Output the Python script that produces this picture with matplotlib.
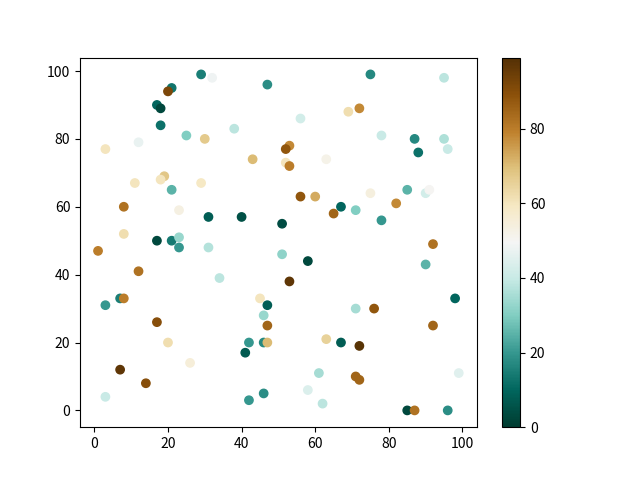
import numpy as np
import matplotlib
matplotlib.use("Agg")
import matplotlib.pyplot as plt

plt.rcParams['font.family'] = ['Noto Sans CJK SC', 'DejaVu Sans']

# ==============================
# data
# ==============================

x = [29, 32, 21, 20, 17, 18, 18, 47, 25, 30, 38, 12, 3, 43, 19, 18, 11, 29, 21, 8,
     23, 31, 40, 51, 8, 17, 21, 23, 75, 95, 72, 69, 56, 78, 87, 95, 88, 96, 53, 52,
     63, 52, 53, 56, 60, 75, 85, 90, 91, 82, 67, 65, 71, 78, 92, 1, 23, 31, 51, 12,
     34, 7, 8, 3, 45, 47, 46, 47, 17, 20, 42, 46, 47, 41, 26, 7, 14, 3, 42, 46,
     58, 53, 90, 98, 71, 76, 92, 63, 67, 72, 61, 99, 71, 72, 58, 62, 85, 87, 96]

y = [99, 98, 95, 94, 90, 89, 84, 96, 81, 80, 83, 79, 77, 74, 69, 68, 67, 67, 65, 60,
     59, 57, 57, 55, 52, 50, 50, 51, 99, 98, 89, 88, 86, 81, 80, 80, 76, 77, 78, 77,
     74, 73, 72, 63, 63, 64, 65, 64, 65, 61, 60, 58, 59, 56, 49, 47, 48, 48, 46, 41,
     39, 33, 33, 31, 33, 31, 28, 25, 26, 20, 20, 20, 20, 17, 14, 12, 8, 4, 3, 5,
     44, 38, 43, 33, 30, 30, 25, 21, 20, 19, 11, 11, 10, 9, 6, 2, 0, 0, 0]

c = [15, 48, 13, 92, 10, 3, 12, 18, 30, 67, 38, 47, 60, 70, 68, 60, 60, 59, 25, 82,
     53, 8, 5, 4, 62, 3, 14, 33, 17, 38, 78, 62, 42, 40, 17, 36, 12, 40, 78, 88,
     52, 60, 80, 88, 73, 54, 25, 42, 50, 78, 10, 85, 30, 20, 82, 80, 20, 37, 32, 82,
     38, 15, 80, 20, 60, 8, 33, 85, 90, 62, 20, 17, 70, 7, 55, 97, 90, 40, 20, 18,
     3, 97, 25, 10, 35, 88, 85, 65, 8, 98, 35, 45, 85, 85, 44, 38, 3, 82, 18]

# ==============================
# plot
# ==============================

fig = plt.figure(figsize=(6.4, 4.8), dpi=100)
sc = plt.scatter(x, y, c=c, cmap='BrBG_r', vmin=0, vmax=99)
plt.colorbar(sc)
plt.savefig('out.png')
